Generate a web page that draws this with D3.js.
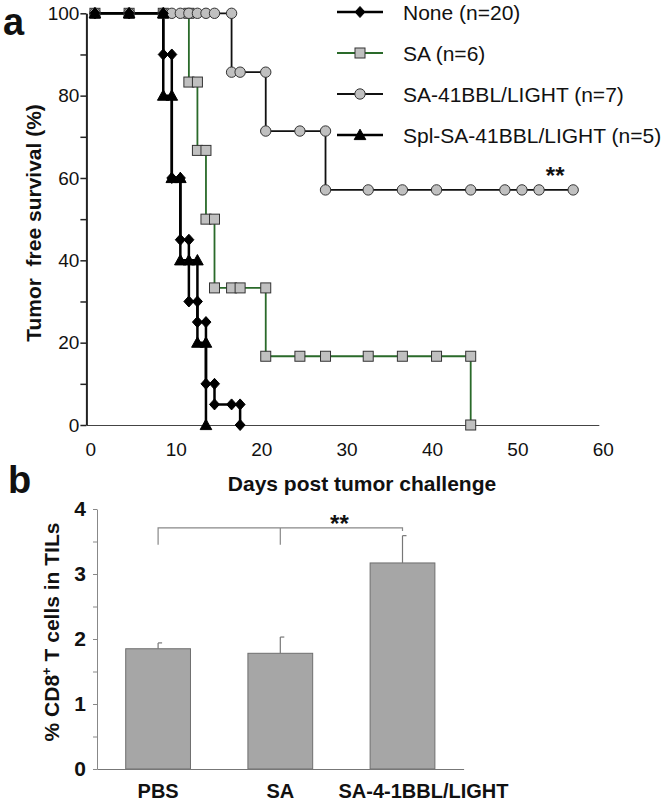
<!DOCTYPE html>
<html><head><meta charset="utf-8">
<script src="https://cdn.jsdelivr.net/npm/d3@7"></script>
<style>body{margin:0;background:#fff} text{font-family:"Liberation Sans",Arial,sans-serif}</style>
</head><body><svg id="c" width="672" height="801"></svg>
<script>
// ---- Panel a: tumor free survival ----
const noneDays = [1,5,9,9,10,10,11,11,12,12,13,13,14,14,15,15,17,18,18];
const noneSurv = [100,100,100,90,90,60,60,45,45,30,30,25,25,10,10,5,5,5,0];
const saDays = [1,5,9,12,12,13,13,14,14,15,15,17,18,21,21,25,28,33,37,41,45,45];
const saSurv = [100,100,100,100,83.3,83.3,66.7,66.7,50,50,33.3,33.3,33.3,33.3,16.7,16.7,16.7,16.7,16.7,16.7,16.7,0];
const sa41Days = [1,5,9,10,11,12,13,14,15,17,17,18,21,21,25,28,28,33,37,41,45,49,51,53,57];
const sa41Surv = [100,100,100,100,100,100,100,100,100,100,85.7,85.7,85.7,71.4,71.4,71.4,57.1,57.1,57.1,57.1,57.1,57.1,57.1,57.1,57.1];
const splDays = [1,5,9,9,10,10,11,11,12,13,13,14,14];
const splSurv = [100,100,100,80,80,60,60,40,40,40,20,20,0];
const seriesNames = ["None (n=20)","SA (n=6)","SA-41BBL/LIGHT (n=7)","Spl-SA-41BBL/LIGHT (n=5)"];
const xTicksA = [0,10,20,30,40,50,60];
const yTicksA = [0,10,20,30,40,50,60,70,80,90,100];
const xTitleA = "Days post tumor challenge";
const yTitleA = "Tumor  free survival (%)";
// ---- Panel b: CD8+ T cells ----
const groupsB = ["PBS","SA","SA-4-1BBL/LIGHT"];
const meansB = [1.85,1.78,3.17];
const errB = [0.09,0.25,0.42];
const yTicksB = [0,0.5,1,1.5,2,2.5,3,3.5,4];

const svg = d3.select("#c");
const FONT = '"Liberation Sans",Arial,sans-serif';

// scales a
const x = d3.scaleLinear().domain([0,60]).range([86.4,598.8]);
const y = d3.scaleLinear().domain([0,100]).range([425,13.3]);

// x axis a
const gxA = svg.append("g").attr("transform",`translate(0,${y(0)})`)
  .call(d3.axisBottom(x).tickValues(xTicksA).tickSize(0).tickSizeOuter(0).tickPadding(18));
gxA.select(".domain").attr("stroke","#444").attr("stroke-width",1.2);
gxA.selectAll("text").attr("font-size",19).attr("font-family",FONT).attr("fill","#111").attr("dx",4);

// y axis a
const gyA = svg.append("g").attr("transform",`translate(${x(0)},0)`)
  .call(d3.axisLeft(y).tickValues(yTicksA).tickSize(6).tickSizeOuter(0).tickPadding(1)
    .tickFormat(d => d % 20 === 0 ? d : ""));
gyA.select(".domain").attr("stroke","#222").attr("stroke-width",2);
gyA.selectAll(".tick line").attr("stroke","#222").attr("stroke-width",1.5);
gyA.selectAll("text").attr("font-size",19).attr("font-family",FONT).attr("fill","#111");

// symbols
function marker(g, type) {
  if (type === "diamond") g.append("path").attr("d","M0,-5.5L5,0L0,5.5L-5,0Z").attr("fill","#000").attr("stroke","#000");
  else if (type === "triangle") g.append("path").attr("d","M0,-5.8L5.8,4.6L-5.8,4.6Z").attr("fill","#000").attr("stroke","#000");
  else if (type === "circle") g.append("circle").attr("r",5.2).attr("fill","#c0c0c0").attr("stroke","#333").attr("stroke-width",1);
  else if (type === "square") g.append("rect").attr("x",-5).attr("y",-5).attr("width",10).attr("height",10).attr("fill","#c0c0c0").attr("stroke","#333").attr("stroke-width",1);
}

const series = [
  {name:seriesNames[0], days:noneDays, surv:noneSurv, color:"#000", width:2.5, sym:"diamond"},
  {name:seriesNames[1], days:saDays, surv:saSurv, color:"#2a6a2a", width:1.8, sym:"square"},
  {name:seriesNames[2], days:sa41Days, surv:sa41Surv, color:"#111", width:1.8, sym:"circle"},
  {name:seriesNames[3], days:splDays, surv:splSurv, color:"#000", width:2.5, sym:"triangle"}
];
const drawOrder = [1,2,0,3];
const line = d3.line().x(d => x(d[0])).y(d => y(d[1]));
drawOrder.forEach(i => {
  const s = series[i];
  const pts = s.days.map((d,k) => [d, s.surv[k]]);
  svg.append("path").attr("d", line(pts)).attr("fill","none").attr("stroke", s.color).attr("stroke-width", s.width);
});
drawOrder.forEach(i => {
  const s = series[i];
  s.days.forEach((d,k) => {
    const g = svg.append("g").attr("transform",`translate(${x(d)},${y(s.surv[k])})`);
    marker(g, s.sym);
  });
});

// legend
const legY = d3.scaleLinear().domain([0,3]).range([12,135]);
series.forEach((s,i) => {
  const ly = legY(i);
  svg.append("line").attr("x1",337).attr("x2",383).attr("y1",ly).attr("y2",ly)
    .attr("stroke",s.color).attr("stroke-width",s.width);
  marker(svg.append("g").attr("transform",`translate(360,${ly})`), s.sym);
  svg.append("text").attr("x",403).attr("y",ly+7.5).attr("font-size",21).attr("fill","#111").text(s.name);
});

// significance a
svg.append("text").attr("x",x(57)-18).attr("y",y(57.1)-6).attr("text-anchor","middle")
  .attr("font-size",24).attr("font-weight","bold").attr("fill","#111").text("**");

// titles a
svg.append("text").attr("x",362).attr("y",491).attr("text-anchor","middle")
  .attr("font-size",21).attr("font-weight","bold").attr("fill","#111").text(xTitleA);
svg.append("text").attr("transform","translate(41,223) rotate(-90)").attr("text-anchor","middle")
  .attr("font-size",21).attr("font-weight","bold").attr("fill","#111")
  .style("white-space","pre").text(yTitleA);
svg.append("text").attr("x",3).attr("y",34.5).attr("font-size",38).attr("font-weight","bold").attr("fill","#111").text("a");

// ---- Panel b ----
const xb = d3.scaleBand().domain(groupsB).range([97,463.6]).paddingInner(0.47).paddingOuter(0.235);
const yb = d3.scaleLinear().domain([0,4]).range([769,509]);

const gyB = svg.append("g").attr("transform",`translate(97,0)`)
  .call(d3.axisLeft(yb).tickValues(yTicksB).tickSize(4).tickSizeOuter(0).tickPadding(7)
    .tickFormat(d => Number.isInteger(d) ? d : ""));
gyB.select(".domain").attr("stroke","#888");
gyB.selectAll(".tick line").attr("stroke","#888");
gyB.selectAll("text").attr("font-size",21).attr("font-weight","bold").attr("font-family",FONT).attr("fill","#111");

// bars
groupsB.forEach((g,i) => {
  svg.append("rect").attr("x",xb(g)).attr("y",yb(meansB[i])).attr("width",xb.bandwidth())
    .attr("height",yb(0)-yb(meansB[i])).attr("fill","#a6a6a6").attr("stroke","#6e6e6e").attr("stroke-width",1);
  const cx = xb(g) + xb.bandwidth()/2;
  svg.append("line").attr("x1",cx).attr("x2",cx).attr("y1",yb(meansB[i])).attr("y2",yb(meansB[i]+errB[i]))
    .attr("stroke","#777").attr("stroke-width",1.2);
  svg.append("line").attr("x1",cx).attr("x2",cx+4).attr("y1",yb(meansB[i]+errB[i])).attr("y2",yb(meansB[i]+errB[i]))
    .attr("stroke","#777").attr("stroke-width",1.2);
});

const gxB = svg.append("g").attr("transform",`translate(0,${yb(0)})`)
  .call(d3.axisBottom(xb).tickSize(0).tickSizeOuter(0).tickPadding(15));
gxB.select(".domain").attr("stroke","#777");
gxB.selectAll("text").attr("font-size",20).attr("font-weight","bold").attr("font-family",FONT).attr("fill","#111")
  .attr("dx", (d,i) => i === 2 ? 21 : 0);

// bracket
const c0 = xb(groupsB[0]) + xb.bandwidth()/2, c1 = xb(groupsB[1]) + xb.bandwidth()/2, c2 = xb(groupsB[2]) + xb.bandwidth()/2;
const bracketY = 3.71;
svg.append("path").attr("fill","none").attr("stroke","#888").attr("stroke-width",1.2)
  .attr("d",`M${c0},${yb(3.45)}V${yb(bracketY)}H${c2}V${yb(3.66)}M${c1},${yb(bracketY)}V${yb(3.45)}`);
svg.append("text").attr("x",(c1+c2)/2-2).attr("y",yb(bracketY)+4).attr("text-anchor","middle")
  .attr("font-size",24).attr("font-weight","bold").attr("fill","#111").text("**");

svg.append("text").attr("transform","translate(59,632) rotate(-90)").attr("text-anchor","middle")
  .attr("font-size",21).attr("font-weight","bold").attr("fill","#111")
  .html('% CD8<tspan font-size="13" dy="-8">+</tspan><tspan dy="8"> T cells in TILs</tspan>');
svg.append("text").attr("x",8).attr("y",493).attr("font-size",38).attr("font-weight","bold").attr("fill","#111").text("b");
</script></body></html>
